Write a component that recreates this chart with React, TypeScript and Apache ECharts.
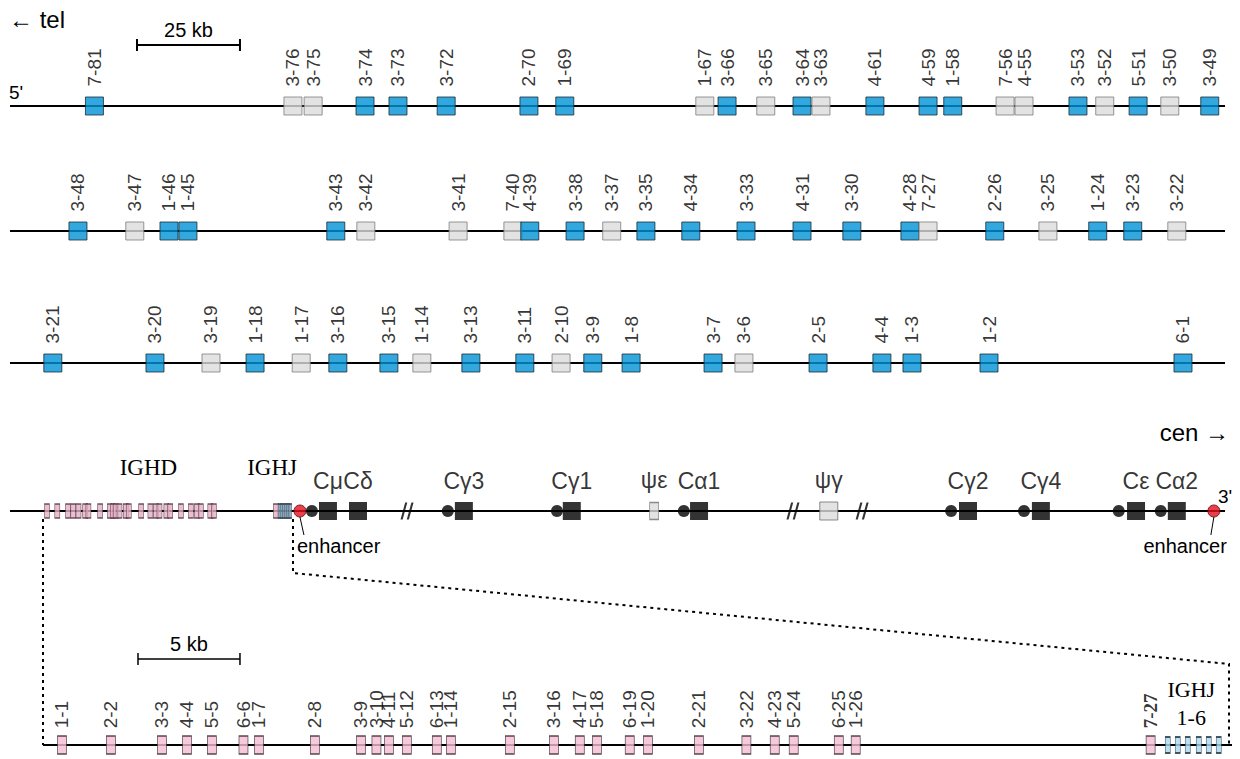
import React, { useEffect, useRef } from "react";
import * as echarts from "echarts";

const SANS = "'Liberation Sans', Arial, Helvetica, sans-serif";
const SERIF = "'Liberation Serif', 'Times New Roman', serif";

const BLUE = "#0092d6";
const GREY = "#dcdcdc";
const PINK = "#f4bcd2";
const LIGHT_BLUE = "#a8d8f2";
const RED = "#e3101f";
const INK = "#000000";

// ---- IGHV genes: three consecutive stretches of the locus (kb from stretch start) ----
// F = functional / ORF (blue), P = pseudogene (grey)
const row1Names = ["7-81", "3-76", "3-75", "3-74", "3-73", "3-72", "2-70", "1-69", "1-67", "3-66", "3-65", "3-64", "3-63", "4-61", "4-59", "1-58", "7-56", "4-55", "3-53", "3-52", "5-51", "3-50", "3-49"];
const row1Kb = [20.5, 68.7, 73.6, 86.2, 94.2, 105.9, 126.0, 134.7, 168.7, 174.1, 183.5, 192.3, 196.9, 210.0, 222.9, 228.9, 241.6, 246.2, 259.3, 265.8, 273.9, 281.6, 291.3];
const row1Status = ["F", "P", "P", "F", "F", "F", "F", "F", "P", "F", "P", "F", "P", "F", "F", "F", "P", "P", "F", "P", "F", "P", "F"];

const row2Names = ["3-48", "3-47", "1-46", "1-45", "3-43", "3-42", "3-41", "7-40", "4-39", "3-38", "3-37", "3-35", "4-34", "3-33", "4-31", "3-30", "4-28", "7-27", "2-26", "3-25", "1-24", "3-23", "3-22"];
const row2Kb = [16.5, 30.3, 38.6, 43.2, 79.1, 86.4, 108.8, 122.1, 126.2, 137.2, 146.1, 154.4, 165.3, 178.7, 192.3, 204.4, 218.5, 222.9, 239.1, 252.0, 264.1, 272.6, 283.3];
const row2Status = ["F", "P", "F", "F", "F", "P", "P", "P", "F", "F", "P", "F", "F", "F", "F", "F", "F", "P", "F", "P", "F", "F", "P"];

const row3Names = ["3-21", "3-20", "3-19", "1-18", "1-17", "3-16", "3-15", "1-14", "3-13", "3-11", "2-10", "3-9", "1-8", "3-7", "3-6", "2-5", "4-4", "1-3", "1-2", "6-1"];
const row3Kb = [10.4, 35.2, 48.8, 59.5, 70.7, 79.6, 92.0, 100.0, 111.9, 125.0, 133.8, 141.5, 150.8, 170.7, 178.2, 196.2, 211.7, 219.0, 237.7, 284.8];
const row3Status = ["F", "F", "P", "F", "P", "F", "F", "P", "F", "F", "P", "F", "F", "F", "P", "F", "F", "F", "F", "F"];

const V_ROW_KB = 295;

// ---- constant region (map units, not to scale across the breaks) ----
const constNames = ["Cμ", "Cδ", "Cγ3", "Cγ1", "ψε", "Cα1", "ψγ", "Cγ2", "Cγ4", "Cε", "Cα2"];
const constKb = [77.2, 84.5, 110.2, 136.4, 156.4, 167.3, 198.8, 232.6, 250.3, 273.4, 283.3];
const constKind = ["C", "C", "C", "C", "pseudoNarrow", "C", "pseudo", "C", "C", "C", "C"];
const switchKb = [73.3, 106.3, 132.8, 163.6, 228.5, 246.2, 269.2, 279.4];
const enhancerKb = [70.4, 292.3];
const breakKb = [96.4, 190.1, 206.9];

// ---- IGHD / IGHJ cluster (kb from start of the D cluster) ----
const dNames = ["1-1", "2-2", "3-3", "4-4", "5-5", "6-6", "1-7", "2-8", "3-9", "3-10", "4-11", "5-12", "6-13", "1-14", "2-15", "3-16", "4-17", "5-18", "6-19", "1-20", "2-21", "3-22", "4-23", "5-24", "6-25", "1-26", "7-27"];
const dKb = [0.93, 3.33, 5.83, 7.06, 8.28, 9.83, 10.59, 13.33, 15.59, 16.35, 16.96, 17.84, 19.31, 20.0, 22.89, 25.05, 26.32, 27.16, 28.77, 29.66, 32.16, 34.49, 35.88, 36.81, 39.02, 39.85, 54.31];
const jNames = ["J1", "J2", "J3", "J4", "J5", "J6"];
const jKb = [55.15, 55.64, 56.13, 56.67, 57.16, 57.65];
const DJ_KB = 58.3;

// scale bars
const V_SCALE_KB = 25;
const DJ_SCALE_KB = 5;

// layout (pixel rows of each map line)
const ROW_Y = [106, 231, 363, 511, 745];
const V_LEFT = 10;
const V_WIDTH = 1215;
const DJ_LEFT = 43;
const DJ_WIDTH = 1189;
const MINI_WIDTH = 250;

function grid(y: number, left: number, width: number) {
  return { top: y - 10, height: 20, left, width, containLabel: false, show: false };
}

function backbone(idx: number, max: number, width = 2) {
  return {
    type: "line",
    xAxisIndex: idx,
    yAxisIndex: idx,
    data: [[0, 0], [max, 0]],
    symbol: "none",
    silent: true,
    z: 1,
    lineStyle: { color: INK, width },
  };
}

const rotatedLabel = {
  show: true,
  formatter: "{b}",
  position: "top",
  rotate: 90,
  align: "left",
  verticalAlign: "middle",
  distance: 10,
  fontSize: 19,
  fontFamily: SANS,
  color: INK,
};

function vSeries(idx: number, names: string[], kb: number[], status: string[]) {
  return {
    type: "scatter",
    xAxisIndex: idx,
    yAxisIndex: idx,
    symbol: "rect",
    symbolSize: 18,
    z: 3,
    label: rotatedLabel,
    data: names.map((n, i) => ({
      name: n,
      value: [kb[i], 0],
      itemStyle:
        status[i] === "F"
          ? { color: BLUE, borderColor: "#1d2b33", borderWidth: 1 }
          : { color: GREY, borderColor: "#7d7d7d", borderWidth: 1 },
    })),
  };
}

function buildOption() {
  const grids = [
    grid(ROW_Y[0], V_LEFT, V_WIDTH),
    grid(ROW_Y[1], V_LEFT, V_WIDTH),
    grid(ROW_Y[2], V_LEFT, V_WIDTH),
    grid(ROW_Y[3], V_LEFT, V_WIDTH),
    grid(ROW_Y[3], DJ_LEFT, MINI_WIDTH),
    grid(ROW_Y[4], DJ_LEFT, DJ_WIDTH),
  ];
  const maxes = [V_ROW_KB, V_ROW_KB, V_ROW_KB, V_ROW_KB, DJ_KB, DJ_KB];
  const xAxis = maxes.map((m, i) => ({ type: "value", gridIndex: i, min: 0, max: m, show: false }));
  const yAxis = maxes.map((_, i) => ({ type: "value", gridIndex: i, min: -1, max: 1, show: false }));

  const series: any[] = [
    backbone(0, V_ROW_KB),
    backbone(1, V_ROW_KB),
    backbone(2, V_ROW_KB),
    backbone(3, V_ROW_KB),
    backbone(5, DJ_KB),
    vSeries(0, row1Names, row1Kb, row1Status),
    vSeries(1, row2Names, row2Kb, row2Status),
    vSeries(2, row3Names, row3Kb, row3Status),
    // switch regions
    {
      type: "scatter",
      xAxisIndex: 3,
      yAxisIndex: 3,
      symbol: "circle",
      symbolSize: 12,
      z: 3,
      itemStyle: { color: INK },
      data: switchKb.map((k) => [k, 0]),
    },
    // constant genes
    {
      type: "scatter",
      xAxisIndex: 3,
      yAxisIndex: 3,
      z: 4,
      label: {
        show: true,
        formatter: "{b}",
        position: "top",
        distance: 10,
        fontSize: 23,
        fontFamily: SANS,
        color: INK,
      },
      data: constNames.map((n, i) => {
        const kind = constKind[i];
        if (kind === "C")
          return { name: n, value: [constKb[i], 0], symbol: "rect", symbolSize: 18, itemStyle: { color: "#000" } };
        if (kind === "pseudoNarrow")
          return {
            name: n,
            value: [constKb[i], 0],
            symbol: "rect",
            symbolSize: [9, 17],
            itemStyle: { color: GREY, borderColor: "#6f6f6f", borderWidth: 1 },
          };
        return {
          name: n,
          value: [constKb[i], 0],
          symbol: "rect",
          symbolSize: 18,
          itemStyle: { color: GREY, borderColor: "#6f6f6f", borderWidth: 1 },
        };
      }),
    },
    // enhancers
    {
      type: "scatter",
      xAxisIndex: 3,
      yAxisIndex: 3,
      symbol: "circle",
      symbolSize: 12,
      z: 4,
      itemStyle: { color: RED, borderColor: "#5a0a0a", borderWidth: 1 },
      data: enhancerKb.map((k) => [k, 0]),
    },
    // map breaks
    {
      type: "scatter",
      xAxisIndex: 3,
      yAxisIndex: 3,
      symbol: "path://M0,20 L5.2,0 L7.6,0 L2.4,20 Z M7,20 L12.2,0 L14.6,0 L9.4,20 Z",
      symbolSize: [13, 17],
      z: 4,
      itemStyle: { color: INK },
      data: breakKb.map((k) => [k, 0]),
    },
    // D and J cluster, compressed, on the constant-region line
    {
      type: "scatter",
      xAxisIndex: 4,
      yAxisIndex: 4,
      symbol: "rect",
      symbolSize: [5, 14],
      z: 3,
      itemStyle: { color: "#e3b0c4", borderColor: "#4a2a38", borderWidth: 1 },
      data: dKb.map((k) => [k, 0]),
    },
    {
      type: "scatter",
      xAxisIndex: 4,
      yAxisIndex: 4,
      symbol: "rect",
      symbolSize: [3, 14],
      z: 3,
      itemStyle: { color: "#7f9fb4", borderColor: "#34424e", borderWidth: 1 },
      data: jKb.map((k) => [k, 0]),
    },
    // D genes, expanded
    {
      type: "scatter",
      xAxisIndex: 5,
      yAxisIndex: 5,
      symbol: "rect",
      symbolSize: [9, 18],
      z: 3,
      itemStyle: { color: PINK, borderColor: "#2b2024", borderWidth: 1 },
      label: { ...rotatedLabel, distance: 7 },
      data: dNames.map((n, i) => ({
        name: n,
        value: [dKb[i], 0],
        label:
          n === "7-27" ? { fontFamily: SERIF, fontWeight: "bold" } : undefined,
      })),
    },
    // J genes, expanded
    {
      type: "scatter",
      xAxisIndex: 5,
      yAxisIndex: 5,
      symbol: "rect",
      symbolSize: [5, 16],
      z: 3,
      itemStyle: { color: LIGHT_BLUE, borderColor: "#1f2e38", borderWidth: 1 },
      data: jNames.map((n, i) => ({ name: n, value: [jKb[i], 0] })),
    },
  ];

  return { animation: false, backgroundColor: "#ffffff", grid: grids, xAxis, yAxis, series };
}

function text(x: number, y: number, str: string, opts: any = {}) {
  return {
    type: "text",
    x,
    y,
    silent: true,
    z: 10,
    style: {
      text: str,
      fill: INK,
      fontFamily: SANS,
      fontSize: 17,
      align: "left",
      verticalAlign: "middle",
      ...opts,
    },
  };
}

function seg(x1: number, y1: number, x2: number, y2: number, width = 1.5, dash?: number[]) {
  return {
    type: "line",
    silent: true,
    z: 10,
    shape: { x1, y1, x2, y2 },
    style: { stroke: INK, lineWidth: width, lineDash: dash },
  };
}

function scaleBar(x0: number, y: number, w: number, label: string, lw: number) {
  return [
    seg(x0, y, x0 + w, y, lw),
    seg(x0, y - 6, x0, y + 6, lw),
    seg(x0 + w, y - 6, x0 + w, y + 6, lw),
    text(x0 + w / 2, y - 15, label, { align: "center", fontSize: 20 }),
  ];
}

export default function App() {
  const ref = useRef<HTMLDivElement>(null);

  useEffect(() => {
    if (!ref.current) return;
    const chart = echarts.init(ref.current, null, { renderer: "svg" });
    chart.setOption(buildOption());

    const at = (g: number, k: number) => chart.convertToPixel({ gridIndex: g }, [k, 0]) as number[];

    const vUnit = at(0, V_SCALE_KB)[0] - at(0, 0)[0];
    const djUnit = at(5, DJ_SCALE_KB)[0] - at(5, 0)[0];

    const [eMuX, eMuY] = at(3, enhancerKb[0]);
    const [e3X, e3Y] = at(3, enhancerKb[1]);
    const [miniL, miniY] = at(4, 0);
    const miniR = at(4, DJ_KB)[0];
    const [detL, detY] = at(5, 0);
    const detR = at(5, DJ_KB)[0] - 3;
    const ighdMid = (at(4, dKb[0])[0] + at(4, dKb[dKb.length - 2])[0]) / 2;
    const ighjMid = (at(4, dKb[dKb.length - 1])[0] + at(4, jKb[jKb.length - 1])[0]) / 2;
    const jDetailMid = (at(5, jKb[0])[0] + at(5, jKb[jKb.length - 1])[0]) / 2;

    const dash = [3, 4];
    const graphic: any[] = [
      text(9, 19, "← tel", { fontSize: 24 }),
      text(1229, 432, "cen →", { fontSize: 24, align: "right" }),
      text(9, ROW_Y[0] - 14, "5'", { fontSize: 19 }),
      text(e3X + 4, e3Y - 15, "3'", { fontSize: 19 }),
      ...scaleBar(137, 45, vUnit, "25 kb", 2),
      ...scaleBar(138, 659, djUnit, "5 kb", 1.5),
      text(ighdMid + 18, 467, "IGHD", { fontFamily: SERIF, fontSize: 23, align: "center" }),
      text(ighjMid - 11, 467, "IGHJ", { fontFamily: SERIF, fontSize: 23, align: "center" }),
      // enhancer callouts
      seg(eMuX, eMuY + 6, eMuX + 4, eMuY + 24, 1),
      text(eMuX - 3, eMuY + 35, "enhancer", { fontSize: 20 }),
      seg(e3X, e3Y + 6, e3X - 3, e3Y + 24, 1),
      text(e3X + 13, e3Y + 35, "enhancer", { fontSize: 20, align: "right" }),
      // zoom connectors between the D/J cluster and its expanded view
      seg(miniL, miniY + 8, detL, detY, 2, dash),
      {
        type: "polyline",
        silent: true,
        z: 10,
        shape: { points: [[miniR, miniY + 8], [miniR, miniY + 62], [detR, detY - 81], [detR, detY]] },
        style: { stroke: INK, lineWidth: 2, lineDash: dash, fill: "none" },
      },
      text(jDetailMid - 2, detY - 56, "IGHJ", { fontFamily: SERIF, fontSize: 22, align: "center" }),
      text(jDetailMid - 2, detY - 28, "1-6", { fontFamily: SERIF, fontSize: 22, align: "center" }),
    ];
    chart.setOption({ graphic });

    return () => chart.dispose();
  }, []);

  return (
    <div
      ref={ref}
      style={{ position: "absolute", left: 0, top: 0, width: 1240, height: 759, background: "#fff" }}
    />
  );
}
